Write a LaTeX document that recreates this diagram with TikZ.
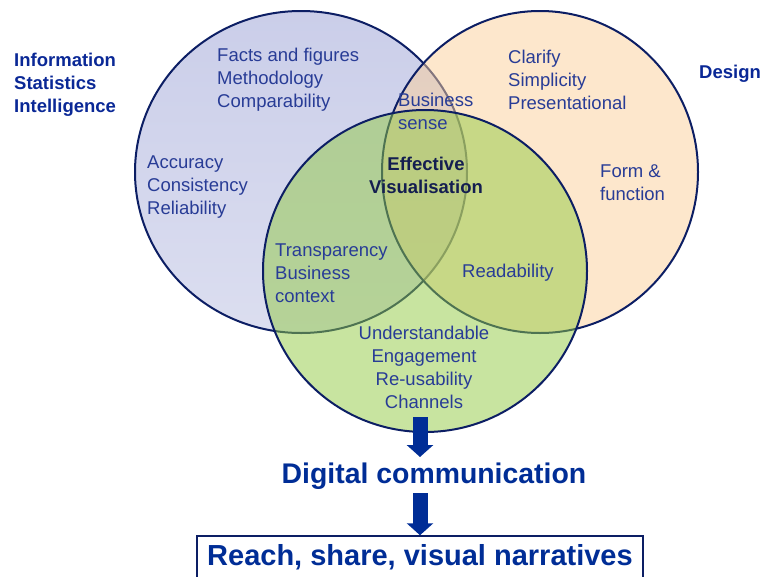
\documentclass[tikz,border=0pt]{standalone}
\usepackage{fontspec}
\setmainfont{Liberation Sans}
\usetikzlibrary{arrows.meta}
\definecolor{navyline}{RGB}{12,30,100}
\definecolor{txtblue}{RGB}{40,60,150}
\definecolor{darktxt}{RGB}{20,30,80}
\definecolor{lblblue}{RGB}{10,40,150}
\definecolor{arrowblue}{RGB}{0,45,150}
\definecolor{lefttop}{RGB}{194,198,230}
\definecolor{leftbot}{RGB}{228,230,243}
\definecolor{righttop}{RGB}{251,207,153}
\definecolor{rightbot}{RGB}{249,205,209}
\definecolor{greentop}{RGB}{145,201,65}
\definecolor{greenbot}{RGB}{229,201,201}
\pgfdeclareverticalshading{leftsh}{100bp}{color(0bp)=(leftbot); color(100bp)=(lefttop)}
\pgfdeclareverticalshading{rightsh}{100bp}{color(0bp)=(rightbot); color(25bp)=(righttop); color(100bp)=(righttop)}
\pgfdeclareverticalshading{greensh}{100bp}{color(0bp)=(greenbot); color(25bp)=(greentop); color(100bp)=(greentop)}
\tikzset{
  setlabel/.style={font=\fontsize{18.5}{23}\selectfont\bfseries, text=lblblue, inner sep=0pt, align=left, anchor=base west},
  itemtext/.style={font=\fontsize{18.5}{23}\selectfont, text=txtblue, inner sep=0pt, align=left, anchor=base west},
  centertext/.style={font=\fontsize{18.5}{23}\selectfont, text=txtblue, inner sep=0pt, align=center, anchor=base},
  outline/.style={draw=navyline, line width=2pt},
  blockarrow/.style={draw=arrowblue, line width=15pt, -{Triangle[width=26pt,length=12pt]}},
}
\begin{document}
\begin{tikzpicture}[x=1pt,y=1pt]
\useasboundingbox (0,0) rectangle (763,-576);
% circles
\coordinate (cl) at (301,-172);
\coordinate (cr) at (540,-172);
\coordinate (cg) at (425,-271);
\shade[shading=leftsh] (cl) ellipse [x radius=166, y radius=161];
\draw[outline] (cl) ellipse [x radius=166, y radius=161];
\shade[shading=rightsh, fill opacity=0.5] (cr) ellipse [x radius=158, y radius=161];
\draw[outline] (cr) ellipse [x radius=158, y radius=161];
\shade[shading=greensh, fill opacity=0.5] (cg) ellipse [x radius=162, y radius=161];
\draw[outline] (cg) ellipse [x radius=162, y radius=161];
% set labels (base = last line)
\node[setlabel] (info) at (14,-112) {Information\\Statistics\\Intelligence};
\node[setlabel] (design) at (699,-78) {Design};
% texts
\node[itemtext] (facts) at (217,-107) {Facts and figures\\Methodology\\Comparability};
\node[itemtext] (accuracy) at (147,-214) {Accuracy\\Consistency\\Reliability};
\node[itemtext] (bsense) at (398,-129) {Business\\sense};
\node[centertext, font=\fontsize{18.5}{23}\selectfont\bfseries, text=darktxt] (effective) at (426,-193) {Effective\\Visualisation};
\node[itemtext] (clarify) at (508,-109) {Clarify\\Simplicity\\Presentational};
\node[itemtext] (form) at (600,-200) {Form \&\\function};
\node[itemtext] (transp) at (275,-302) {Transparency\\Business\\context};
\node[itemtext] (readab) at (462,-277) {Readability};
\node[centertext] (underst) at (424,-408) {Understandable\\Engagement\\Re-usability\\Channels};
% bottom
\node[font=\fontsize{28.4}{32}\selectfont\bfseries, text=arrowblue, inner sep=0pt, anchor=base] (digital) at (434,-483) {Digital communication};
\node[font=\fontsize{29}{32}\selectfont\bfseries, text=arrowblue, inner sep=0pt, anchor=base,
      draw=navyline, line width=1.5pt, minimum width=446pt, text height=29pt, text depth=30pt] (reach) at (420,-565) {Reach, share, visual narratives};
\coordinate (a1s) at (420,-417);
\coordinate (a1e) at (420,-457);
\coordinate (a2s) at (420,-493);
\draw[blockarrow] (a1s) -- (a1e);
\draw[blockarrow] (a2s) -- (reach.north);
\end{tikzpicture}
\end{document}
